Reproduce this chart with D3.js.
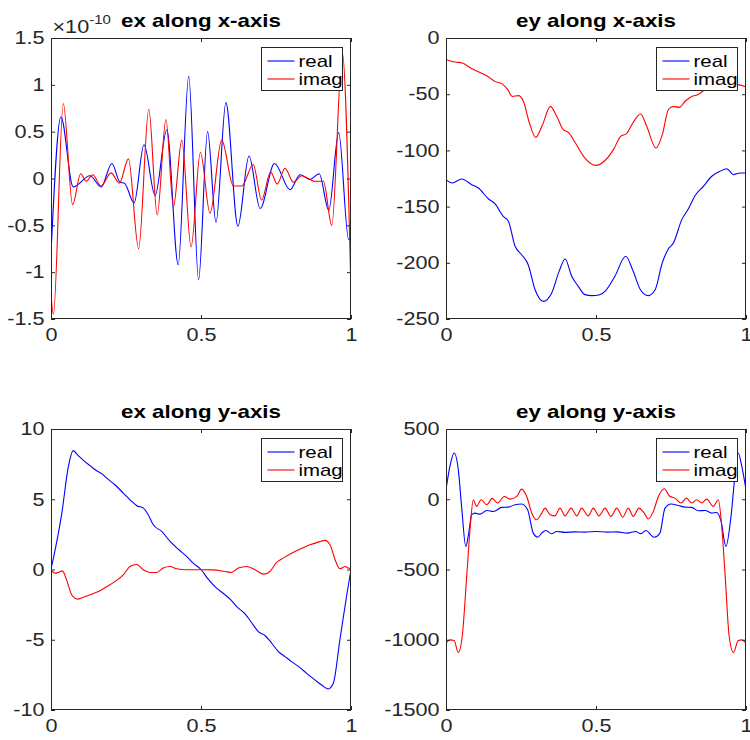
<!DOCTYPE html>
<html>
<head>
<meta charset="utf-8">
<script src="https://cdn.jsdelivr.net/npm/d3@7"></script>
<style>
  body { margin: 0; background: #fff; }
  text { font-family: "Liberation Sans", Arial, Helvetica, sans-serif; }
</style>
</head>
<body>
<div id="chart"></div>
<script>
// x positions are normalised 0..1
// ex along x-axis (units of 1e-10)
const exXReal = [[0,-0.8],[0.033,0.66],[0.074,-0.09],[0.13,0.03],[0.167,-0.09],[0.203,0.16],[0.23,-0.04],[0.245,-0.05],
  [0.277,-0.26],[0.31,0.36],[0.347,-0.18],[0.386,0.52],[0.424,-0.92],[0.459,1.09],[0.492,-1.08],[0.522,0.50],
  [0.55,-0.47],[0.583,0.81],[0.623,-0.51],[0.66,0.24],[0.697,-0.32],[0.745,0.16],[0.797,-0.12],[0.83,0.04],
  [0.863,-0.01],[0.894,0.05],[0.926,-0.34],[0.959,0.49],[0.992,-0.65],[1,-0.59]];
const exXImag = [[0,-1.25],[0.008,-1.45],[0.041,0.80],[0.072,-0.28],[0.099,0.05],[0.117,-0.03],[0.139,0.04],[0.167,-0.08],
  [0.2,0.06],[0.228,-0.05],[0.258,0.21],[0.292,-0.75],[0.326,0.74],[0.354,-0.39],[0.383,0.63],[0.408,-0.30],
  [0.436,0.41],[0.467,-0.73],[0.498,0.28],[0.53,-0.37],[0.569,0.41],[0.608,-0.08],[0.636,-0.08],[0.674,0.15],
  [0.702,-0.23],[0.732,0.07],[0.754,-0.06],[0.78,0.11],[0.808,-0.04],[0.836,0.03],[0.88,-0.03],[0.908,-0.03],
  [0.936,-0.50],[0.971,1.34],[1,-1.22]];

// ey along x-axis
const eyXReal = [[0,-126],[0.021,-129],[0.052,-125.4],[0.086,-130.5],[0.108,-133.5],[0.141,-143],[0.163,-147.4],
  [0.191,-158.7],[0.208,-163],[0.23,-185],[0.252,-192.8],[0.274,-201.7],[0.297,-224],[0.324,-234.3],[0.352,-227],
  [0.377,-207.6],[0.397,-196.6],[0.419,-212],[0.441,-221],[0.463,-228.3],[0.486,-229.2],[0.51,-228.6],[0.53,-225.4],
  [0.563,-212],[0.599,-194.2],[0.624,-207.6],[0.648,-224],[0.674,-229.2],[0.697,-224],[0.721,-200],[0.741,-187.7],
  [0.758,-182.4],[0.786,-161.6],[0.808,-152],[0.83,-140.3],[0.858,-132],[0.886,-123],[0.913,-118.6],[0.936,-116.3],
  [0.958,-121.6],[0.98,-120.1],[1,-120.1]];
const eyXImag = [[0,-19.3],[0.03,-21.4],[0.054,-22.2],[0.086,-27.3],[0.108,-30],[0.136,-33.5],[0.163,-38.6],[0.188,-41],
  [0.206,-46],[0.221,-52],[0.241,-51.3],[0.258,-56.3],[0.278,-75.6],[0.299,-88.4],[0.322,-77],[0.348,-60.8],
  [0.369,-69.7],[0.391,-81.6],[0.408,-84],[0.43,-92.8],[0.463,-106.8],[0.5,-113.3],[0.53,-109],[0.558,-99.3],
  [0.582,-87.5],[0.602,-85.1],[0.624,-75],[0.649,-67.6],[0.669,-78.6],[0.7,-97.9],[0.721,-86],[0.741,-63.8],
  [0.758,-60.8],[0.778,-61.7],[0.797,-56.3],[0.819,-52],[0.839,-50.4],[0.863,-46],[0.886,-43],[0.91,-42],
  [0.94,-41.5],[0.97,-41.5],[1,-43.6]];

// ex along y-axis
const exYReal = [[0,0],[0.036,4.0],[0.058,7.34],[0.074,8.46],[0.091,8.1],[0.108,7.77],[0.13,7.39],[0.152,7.03],
  [0.169,6.82],[0.186,6.5],[0.213,6.03],[0.241,5.44],[0.269,4.85],[0.286,4.54],[0.308,4.37],[0.324,3.9],
  [0.341,3.18],[0.369,2.71],[0.397,2.0],[0.424,1.45],[0.452,0.93],[0.474,0.45],[0.5,0],[0.524,-0.69],
  [0.552,-1.33],[0.574,-1.69],[0.597,-2.11],[0.619,-2.64],[0.647,-3.16],[0.674,-3.94],[0.691,-4.42],[0.713,-4.7],
  [0.736,-5.25],[0.758,-5.84],[0.78,-6.2],[0.802,-6.56],[0.83,-6.98],[0.852,-7.39],[0.88,-7.86],[0.902,-8.22],
  [0.924,-8.5],[0.941,-8.1],[0.963,-5.0],[0.986,-1.8],[1,0]];
const exYImag = [[0,0],[0.013,-0.26],[0.024,-0.21],[0.038,-0.1],[0.052,-0.74],[0.069,-1.8],[0.088,-2.11],[0.108,-1.97],
  [0.13,-1.8],[0.158,-1.57],[0.186,-1.21],[0.213,-0.86],[0.241,-0.38],[0.263,0.21],[0.286,0.36],[0.308,-0.02],
  [0.33,-0.21],[0.352,-0.21],[0.374,0.1],[0.397,0.21],[0.419,0.05],[0.452,-0.02],[0.497,-0.02],[0.54,-0.03],
  [0.58,-0.14],[0.602,-0.21],[0.624,0.1],[0.652,0.21],[0.68,-0.02],[0.71,-0.33],[0.73,-0.14],[0.752,0.5],
  [0.774,0.81],[0.802,1.16],[0.83,1.45],[0.863,1.76],[0.891,1.95],[0.913,2.07],[0.93,1.76],[0.947,0.69],
  [0.963,0.05],[0.98,0.21],[0.991,0.1],[1,0]];

// ey along y-axis
const eyYReal = [[0,68],[0.013,234],[0.027,329],[0.041,210],[0.052,-51],[0.066,-336],[0.074,-265],[0.086,-110],
  [0.097,-99],[0.113,-106],[0.136,-80],[0.158,-87],[0.186,-58],[0.208,-56],[0.23,-39],[0.252,-34],[0.272,-75],
  [0.291,-241],[0.306,-270],[0.319,-241],[0.333,-222],[0.352,-246],[0.369,-229],[0.397,-236],[0.43,-232],
  [0.463,-234],[0.5,-229],[0.537,-234],[0.57,-232],[0.604,-241],[0.632,-229],[0.649,-246],[0.666,-222],
  [0.694,-270],[0.713,-241],[0.73,-63],[0.75,-34],[0.774,-44],[0.797,-56],[0.819,-58],[0.841,-82],[0.864,-80],
  [0.886,-99],[0.902,-94],[0.917,-158],[0.933,-336],[0.95,-122],[0.963,163],[0.974,329],[0.986,234],[1,68]];
const eyYImag = [[0,-1025],[0.013,-1001],[0.027,-1006],[0.041,-1091],[0.054,-977],[0.069,-550],[0.08,-217],[0.091,-4],
  [0.102,-51],[0.117,-4],[0.136,-39],[0.154,6],[0.172,-27],[0.194,20],[0.213,1],[0.236,20],[0.252,72],[0.269,20],
  [0.286,-99],[0.302,-146],[0.319,-99],[0.33,-63],[0.347,-110],[0.363,-118],[0.38,-63],[0.397,-118],[0.417,-63],
  [0.436,-118],[0.452,-63],[0.474,-118],[0.491,-63],[0.51,-118],[0.53,-63],[0.55,-122],[0.569,-63],[0.589,-127],
  [0.608,-63],[0.624,-122],[0.643,-63],[0.661,-99],[0.674,-141],[0.691,-87],[0.708,20],[0.728,75],[0.744,25],
  [0.763,8],[0.783,-27],[0.802,8],[0.819,-27],[0.836,-4],[0.852,-27],[0.869,1],[0.891,-51],[0.908,-4],
  [0.919,-193],[0.93,-526],[0.944,-977],[0.958,-1091],[0.974,-1006],[0.986,-1001],[1,-1025]];

const xTicks = [0, 0.5, 1];
const yTicksExX = [-1.5, -1, -0.5, 0, 0.5, 1, 1.5];
const yTicksEyX = [-250, -200, -150, -100, -50, 0];
const yTicksExY = [-10, -5, 0, 5, 10];
const yTicksEyY = [-1500, -1000, -500, 0, 500];
const seriesNames = ["real", "imag"];
const titles = ["ex along x-axis", "ey along x-axis", "ex along y-axis", "ey along y-axis"];

const width = 750, height = 740;
const pw = 300, ph = 281;
const axisColor = "#262626";
const colors = ["#0000ff", "#ff0000"];
const widen = 1.2; // the figure's lettering is drawn wider than plain Helvetica

const panels = [
  {left: 51, top: 38, yTicks: yTicksExX, data: [exXReal, exXImag], exponent: true},
  {left: 446, top: 38, yTicks: yTicksEyX, data: [eyXReal, eyXImag]},
  {left: 51, top: 429, yTicks: yTicksExY, data: [exYReal, exYImag]},
  {left: 446, top: 429, yTicks: yTicksEyY, data: [eyYReal, eyYImag]}
];

const svg = d3.select("#chart").append("svg")
  .attr("width", width)
  .attr("height", height);

const fmt = d => String(d);

function stretch(sel) {
  sel.each(function () {
    const len = this.getComputedTextLength();
    if (len > 0) {
      d3.select(this).attr("textLength", len * widen).attr("lengthAdjust", "spacingAndGlyphs");
    }
  });
}

function styleAxis(g) {
  g.select(".domain").remove();
  g.selectAll(".tick line").attr("stroke", axisColor);
  g.selectAll(".tick text").attr("fill", axisColor).attr("font-size", 18)
    .attr("font-family", '"Liberation Sans", Arial, sans-serif')
    .call(stretch);
}

panels.forEach((p, k) => {
  const g = svg.append("g").attr("transform", `translate(${p.left},${p.top})`);

  const x = d3.scaleLinear().domain([0, 1]).range([0, pw]);
  const y = d3.scaleLinear().domain(d3.extent(p.yTicks)).range([ph, 0]);

  g.append("clipPath").attr("id", "clip" + k)
    .append("rect").attr("width", pw).attr("height", ph);

  const line = d3.line()
    .x(d => x(d[0]))
    .y(d => y(d[1]))
    .curve(d3.curveMonotoneX);

  p.data.forEach((s, i) => {
    g.append("path")
      .datum(s)
      .attr("clip-path", `url(#clip${k})`)
      .attr("fill", "none")
      .attr("stroke", colors[i])
      .attr("stroke-width", 1.1)
      .attr("d", line);
  });

  // axes, ticks pointing inward on all four sides
  g.append("g").attr("transform", `translate(0,${ph})`)
    .call(d3.axisBottom(x).tickValues(xTicks).tickFormat(fmt).tickSizeInner(-4).tickSizeOuter(0).tickPadding(9))
    .call(styleAxis);
  g.append("g")
    .call(d3.axisTop(x).tickValues(xTicks).tickFormat("").tickSizeInner(-4).tickSizeOuter(0))
    .call(styleAxis);
  g.append("g")
    .call(d3.axisLeft(y).tickValues(p.yTicks).tickFormat(fmt).tickSizeInner(-4).tickSizeOuter(0).tickPadding(6.5))
    .call(styleAxis);
  g.append("g").attr("transform", `translate(${pw},0)`)
    .call(d3.axisRight(y).tickValues(p.yTicks).tickFormat("").tickSizeInner(-4).tickSizeOuter(0))
    .call(styleAxis);

  g.append("rect")
    .attr("x", 0.5).attr("y", 0.5)
    .attr("width", pw - 1).attr("height", ph - 1)
    .attr("fill", "none")
    .attr("stroke", axisColor)
    .attr("stroke-width", 1);

  // legend
  const lg = g.append("g").attr("transform", `translate(${pw - 89.5},9.5)`);
  lg.append("rect")
    .attr("width", 81).attr("height", 43)
    .attr("fill", "#fff")
    .attr("stroke", axisColor)
    .attr("stroke-width", 1);
  seriesNames.forEach((name, i) => {
    const ly = 13.5 + i * 18;
    lg.append("line")
      .attr("x1", 6).attr("x2", 33)
      .attr("y1", ly).attr("y2", ly)
      .attr("stroke", colors[i])
      .attr("stroke-width", 1.1);
    lg.append("text")
      .attr("x", 37).attr("y", ly)
      .attr("dy", "0.35em")
      .attr("font-size", 17)
      .attr("fill", "#000")
      .text(name)
      .call(stretch);
  });

  g.append("text")
    .attr("x", pw / 2).attr("y", -11)
    .attr("text-anchor", "middle")
    .attr("font-size", 18.6)
    .attr("font-weight", "bold")
    .attr("fill", "#000")
    .text(titles[k])
    .call(stretch);

  if (p.exponent) {
    const ex = g.append("text")
      .attr("x", 1.5).attr("y", -5)
      .attr("font-size", 18)
      .attr("fill", axisColor);
    ex.append("tspan").text("\u00d710");
    ex.append("tspan").attr("dy", -9).attr("font-size", 12.5).text("-10");
    ex.call(stretch);
  }
});
</script>
</body>
</html>
